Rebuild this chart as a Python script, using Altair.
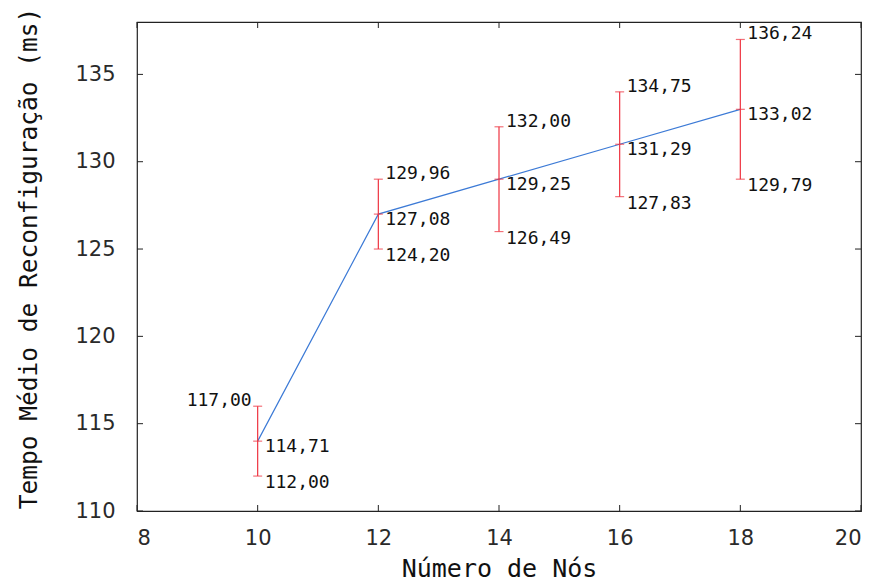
import altair as alt
import pandas as pd

# data
nodes = [10, 12, 14, 16, 18]
mean_vals = [114, 127, 129, 131, 133]
low_vals = [112, 125, 126, 128, 129]
high_vals = [116, 129, 132, 134, 137]
mean_labels = ["114,71", "127,08", "129,25", "131,29", "133,02"]
low_labels = ["112,00", "124,20", "126,49", "127,83", "129,79"]
high_labels = ["117,00", "129,96", "132,00", "134,75", "136,24"]
high_label_side = ["left", "right", "right", "right", "right"]

x_ticks = [8, 10, 12, 14, 16, 18, 20]
y_ticks = [110, 115, 120, 125, 130, 135]

W, H = 724, 489

df = pd.DataFrame({
    "n": nodes, "mean": mean_vals, "low": low_vals, "high": high_vals,
    "mean_lab": mean_labels, "low_lab": low_labels, "high_lab": high_labels,
    "side": high_label_side,
})
xt = pd.DataFrame({"v": x_ticks})
yt = pd.DataFrame({"v": y_ticks})

xscale = alt.Scale(domain=[8, 20], nice=False, zero=False)
yscale = alt.Scale(domain=[110, 138], nice=False, zero=False)

xaxis = alt.Axis(values=x_ticks, format="d", title="Número de Nós", grid=False, domain=False,
                 ticks=False, tickSize=0, labelPadding=16, labelFontSize=21,
                 labelFont="DejaVu Sans", labelColor="#2a2a2a",
                 titleFont="DejaVu Sans Mono", titleFontSize=25, titleFontWeight="normal",
                 titleColor="#111111", titlePadding=8)
yaxis = alt.Axis(values=y_ticks, format="d", title="Tempo Médio de Reconfiguração (ms)", grid=False,
                 domain=False, ticks=False, tickSize=0, labelPadding=22, labelFontSize=21,
                 labelFont="DejaVu Sans", labelColor="#2a2a2a",
                 titleFont="DejaVu Sans Mono", titleFontSize=24.5, titleFontWeight="normal",
                 titleColor="#111111", titlePadding=33, titleY=236)

base = alt.Chart(df)

line = base.mark_line(color="#3c7ad6", strokeWidth=1.2).encode(
    x=alt.X("n:Q", scale=xscale, axis=xaxis),
    y=alt.Y("mean:Q", scale=yscale, axis=yaxis),
)

red = "#ee3340"
err = base.mark_rule(color=red, strokeWidth=1.2).encode(
    x="n:Q", y="low:Q", y2="high:Q")
cap_lo = base.mark_tick(color=red, orient="horizontal", size=9, thickness=1.2).encode(
    x="n:Q", y="low:Q")
cap_hi = base.mark_tick(color=red, orient="horizontal", size=9, thickness=1.2).encode(
    x="n:Q", y="high:Q")
cap_mid = base.mark_tick(color=red, orient="horizontal", size=9, thickness=1.2).encode(
    x="n:Q", y="mean:Q")

tfont = dict(font="DejaVu Sans Mono", fontSize=18, color="#111111", baseline="middle")
t_mean = base.mark_text(align="left", dx=7, dy=6, **tfont).encode(
    x="n:Q", y="mean:Q", text="mean_lab:N")
t_low = base.mark_text(align="left", dx=7, dy=7, **tfont).encode(
    x="n:Q", y="low:Q", text="low_lab:N")
t_high_r = base.mark_text(align="left", dx=7, dy=-5, **tfont).transform_filter(
    alt.datum.side == "right").encode(x="n:Q", y="high:Q", text="high_lab:N")
t_high_l = base.mark_text(align="right", dx=-6, dy=-5, **tfont).transform_filter(
    alt.datum.side == "left").encode(x="n:Q", y="high:Q", text="high_lab:N")

tick_style = dict(color="#222222", strokeWidth=1)
xt_bot = alt.Chart(xt).mark_rule(**tick_style).encode(
    x="v:Q", y=alt.value(H), y2=alt.value(H - 6))
xt_top = alt.Chart(xt).mark_rule(**tick_style).encode(
    x="v:Q", y=alt.value(0), y2=alt.value(6))
yt_left = alt.Chart(yt).mark_rule(**tick_style).encode(
    y="v:Q", x=alt.value(0), x2=alt.value(6))
yt_right = alt.Chart(yt).mark_rule(**tick_style).encode(
    y="v:Q", x=alt.value(W), x2=alt.value(W - 6))

chart = alt.layer(
    line, xt_bot, xt_top, yt_left, yt_right,
    err, cap_lo, cap_hi, cap_mid,
    t_mean, t_low, t_high_r, t_high_l,
).properties(
    width=W, height=H,
    autosize=alt.AutoSizeParams(type="none"),
    padding={"left": 137, "top": 22, "right": 15, "bottom": 73},
    background="white",
).configure_view(
    stroke="#222222", strokeWidth=1.2
)

chart.save("out.html", embed_options={"renderer": "svg", "actions": False})
